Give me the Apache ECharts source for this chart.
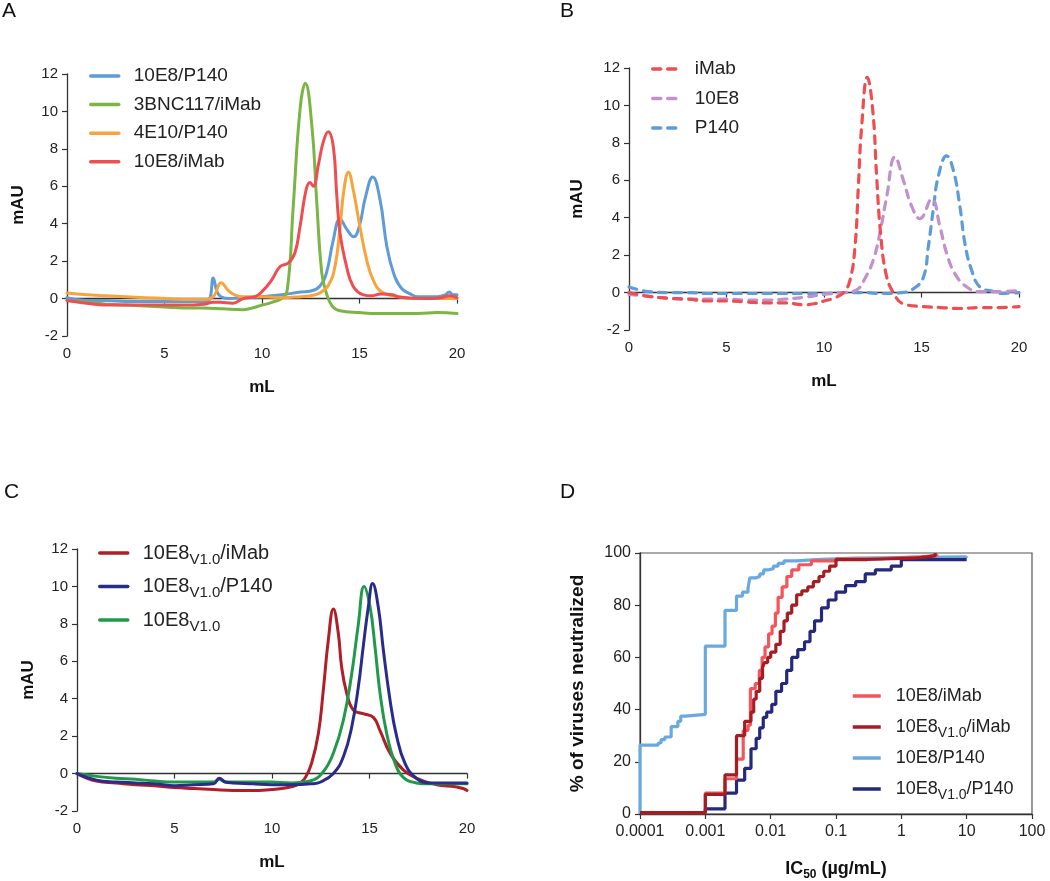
<!DOCTYPE html>
<html><head><meta charset="utf-8">
<script src="https://cdn.jsdelivr.net/npm/echarts@6/dist/echarts.min.js"></script>
<style>html,body{margin:0;padding:0;background:#fff}#c{width:1050px;height:881px}</style>
</head><body><div id="c"></div>
<script>
// ---------- Panel A (mL, mAU) ----------
const a_10E8_P140 = [[0,0.05],[1,-0.1],[2,-0.1],[3,-0.15],[4,-0.15],[5,-0.15],[6,-0.15],[7,-0.15],[7.3,-0.05],[7.5,1.1],[7.7,0.35],[7.9,0.1],[8.3,0.0],[9,0.05],[10,0.1],[11,0.2],[12,0.35],[12.5,0.4],[12.95,0.65],[13.3,1.35],[13.65,3.1],[14.0,4.25],[14.35,3.7],[14.7,3.3],[15.0,3.9],[15.3,5.4],[15.68,6.5],[16.05,5.3],[16.4,2.8],[16.75,1.35],[17.15,0.55],[17.6,0.25],[18,0.1],[19,0.1],[19.4,0.2],[19.6,0.35],[19.8,0.2],[20,0.2]];
const a_3BNC117_iMab = [[0,-0.1],[1,-0.2],[2,-0.3],[3,-0.35],[4,-0.4],[5,-0.45],[6,-0.5],[7,-0.5],[8,-0.55],[9,-0.6],[9.5,-0.5],[10,-0.35],[10.5,-0.2],[11.0,0.0],[11.3,0.5],[11.6,4.9],[11.95,10.1],[12.22,11.5],[12.56,9.2],[12.8,5.3],[13.06,1.4],[13.3,0.3],[13.6,-0.4],[14,-0.65],[15,-0.75],[16,-0.8],[17,-0.8],[18,-0.8],[19,-0.75],[20,-0.8]];
const a_4E10_P140 = [[0,0.3],[1,0.2],[2,0.15],[3,0.1],[4,0.05],[5,0.0],[6,-0.05],[7,-0.05],[7.5,0.1],[7.9,0.85],[8.3,0.4],[8.7,0.15],[9,0.1],[10,0.1],[11,0.05],[12,0.1],[12.5,0.15],[12.97,0.3],[13.4,0.7],[13.74,1.7],[14.0,3.8],[14.2,5.8],[14.43,6.75],[14.68,5.8],[15.03,3.8],[15.37,2.05],[15.7,1.0],[16.14,0.35],[17,0.1],[18,0.0],[19,0.0],[20,0.0]];
const a_10E8_iMab = [[0,-0.1],[1,-0.25],[2,-0.35],[3,-0.35],[4,-0.35],[5,-0.35],[6,-0.35],[7,-0.3],[7.5,-0.2],[7.85,-0.2],[8.5,-0.25],[9.05,0.0],[9.64,0.1],[10.07,0.45],[10.5,1.0],[10.92,1.7],[11.35,1.9],[11.69,2.45],[11.95,3.85],[12.26,5.8],[12.46,6.2],[12.63,6.0],[12.9,7.2],[13.15,8.4],[13.4,8.92],[13.66,8.1],[13.83,5.6],[14.0,3.5],[14.34,1.7],[14.68,0.65],[15.2,0.2],[15.6,0.15],[16.1,0.25],[16.7,0.2],[17.1,0.07],[18.4,0.0],[19.2,0.05],[19.6,0.15],[20,0.05]];

// ---------- Panel B ----------
const b_iMab = [[0,0.0],[1,-0.2],[2,-0.3],[3,-0.35],[4,-0.45],[5,-0.45],[6,-0.5],[7,-0.55],[8,-0.55],[9,-0.65],[9.5,-0.6],[10,-0.45],[10.5,-0.3],[11,0.0],[11.33,0.65],[11.59,2.45],[11.76,5.65],[11.93,8.85],[12.22,11.5],[12.5,9.75],[12.7,6.2],[12.9,3.2],[13.18,1.0],[13.55,0.0],[14.07,-0.6],[15.1,-0.75],[16,-0.8],[17,-0.85],[18,-0.8],[19,-0.8],[20,-0.75]];
const b_10E8 = [[0,-0.1],[1,-0.2],[2,-0.3],[3,-0.35],[4,-0.35],[5,-0.35],[6,-0.4],[7,-0.4],[8,-0.35],[9,-0.25],[10,-0.1],[11,0.0],[11.68,0.15],[12.1,0.75],[12.53,1.75],[12.87,3.2],[13.21,5.1],[13.64,7.25],[14.07,6.0],[14.5,4.6],[14.92,3.95],[15.52,5.0],[15.95,3.5],[16.29,2.1],[16.72,1.0],[17.32,0.3],[18,0.05],[19,0.05],[20,0.1]];
const b_P140 = [[0,0.3],[0.5,0.15],[1,0.05],[2,0.0],[3,0.0],[4,-0.05],[5,-0.05],[6,-0.05],[7,-0.05],[8,-0.05],[9,-0.05],[10,-0.05],[11,0.0],[12,0.0],[13,-0.05],[14,0.0],[14.58,0.2],[15.09,0.8],[15.35,2.45],[15.6,4.4],[15.86,6.2],[16.29,7.3],[16.63,6.55],[16.97,4.6],[17.23,2.6],[17.57,1.2],[18,0.3],[18.7,0.05],[19,-0.05],[20,0.0]];

// ---------- Panel C ----------
const c_v10_iMab = [[0,0.0],[1,-0.4],[2,-0.5],[3,-0.6],[4,-0.65],[5,-0.75],[6,-0.8],[7,-0.85],[8,-0.9],[9,-0.9],[10,-0.85],[10.5,-0.8],[11,-0.7],[11.3,-0.6],[11.69,-0.25],[12.03,0.55],[12.38,2.15],[12.63,4.45],[12.89,7.15],[13.15,8.8],[13.4,7.5],[13.57,5.7],[13.83,4.3],[14.17,3.4],[14.68,3.2],[15.2,3.0],[15.54,2.3],[16.05,1.1],[16.73,0.2],[17.42,-0.25],[18.45,-0.6],[19.4,-0.7],[19.8,-0.8],[20,-0.9]];
const c_v10_P140 = [[0,0.0],[1,-0.35],[2,-0.45],[3,-0.5],[4,-0.55],[5,-0.65],[6,-0.6],[7,-0.55],[7.3,-0.25],[7.6,-0.45],[8,-0.5],[9,-0.55],[10,-0.6],[11,-0.6],[12,-0.55],[12.5,-0.45],[13.15,0.0],[13.66,0.9],[14.09,2.5],[14.43,4.65],[14.68,6.8],[14.94,8.9],[15.16,10.15],[15.45,8.9],[15.71,6.6],[16.05,3.95],[16.39,2.0],[16.82,0.55],[17.4,-0.25],[18.1,-0.5],[19,-0.5],[20,-0.5]];
const c_v10 = [[0,0.0],[1,-0.15],[2,-0.25],[3,-0.3],[4,-0.4],[5,-0.45],[6,-0.45],[7,-0.45],[7.3,-0.3],[7.6,-0.45],[8,-0.45],[9,-0.45],[10,-0.45],[11,-0.5],[11.95,-0.4],[12.63,0.1],[13.15,1.1],[13.66,2.85],[14.09,5.35],[14.43,8.0],[14.72,10.0],[15.03,8.9],[15.28,6.8],[15.54,4.3],[15.88,2.15],[16.31,0.55],[16.73,-0.2],[17.4,-0.5],[18,-0.55],[19,-0.55],[20,-0.55]];

// ---------- Panel D (IC50 µg/mL, % neutralized), steps ----------
const d_10E8_iMab = [[0.0001,0.5],[0.001,1],[0.001,8],[0.002,9],[0.002,13.5],[0.003,14],[0.003,21],[0.0038,22],[0.0038,32],[0.0045,34],[0.0049,48],[0.0058,50],[0.0067,55],[0.0074,60],[0.0082,64],[0.0093,69],[0.0105,72],[0.0118,77],[0.013,83],[0.015,87],[0.0177,91],[0.021,93.5],[0.027,95.5],[0.042,97],[0.1,97.8],[0.5,98.2],[1,98.5],[2,99],[3.5,99.5]];
const d_v10_iMab = [[0.0001,0.5],[0.001,1],[0.001,7.5],[0.002,8.5],[0.002,15],[0.003,16],[0.003,30],[0.004,31],[0.004,35.5],[0.005,36],[0.005,39],[0.0055,44],[0.006,47],[0.0068,52],[0.0075,56],[0.008,58],[0.009,60],[0.01,62],[0.012,65],[0.014,70],[0.016,74],[0.018,77],[0.021,80],[0.025,84],[0.03,85.5],[0.037,87],[0.045,89],[0.055,91],[0.065,93],[0.08,95],[0.1,97.5],[0.3,97.8],[0.7,98],[1.5,98.5],[2.5,99],[3.3,100]];
const d_10E8_P140 = [[0.0001,0],[0.0001,26.4],[0.00019,27.2],[0.00021,28.5],[0.00024,29.5],[0.0003,33.5],[0.00038,35.5],[0.00042,37.5],[0.0005,38.2],[0.001,38.8],[0.001,64.3],[0.002,65.5],[0.002,78],[0.003,79],[0.003,83.5],[0.0037,85],[0.0045,86.5],[0.0048,90.5],[0.006,91],[0.0068,92],[0.0078,93.5],[0.009,94],[0.011,95],[0.013,96],[0.016,97],[0.025,97.5],[0.05,98],[0.2,98.2],[1,98.5],[10,98.8]];
const d_v10_P140 = [[0.0001,0.5],[0.001,1],[0.001,2],[0.002,3],[0.002,8],[0.003,9],[0.003,13],[0.004,14],[0.004,17.5],[0.005,18.5],[0.005,25],[0.006,29],[0.0068,33],[0.0077,37],[0.0087,39],[0.0104,42],[0.012,47],[0.0147,50],[0.0176,55],[0.021,60],[0.026,63],[0.033,66],[0.04,70],[0.047,74],[0.06,79],[0.076,82],[0.1,85],[0.14,87.5],[0.2,89],[0.28,92],[0.4,93.5],[0.7,95],[1,97.5],[10,97.5]];
const dTickLabels = ['0.0001','0.001','0.01','0.1','1','10','100'];

// legend labels ("_x_" marks a subscript)
const labelsA = ['10E8/P140','3BNC117/iMab','4E10/P140','10E8/iMab'];
const labelsB = ['iMab','10E8','P140'];
const labelsC = ['10E8_V1.0_/iMab','10E8_V1.0_/P140','10E8_V1.0_'];
const labelsD = ['10E8/iMab','10E8_V1.0_/iMab','10E8/P140','10E8_V1.0_/P140'];

const FONT = '"Liberation Sans", Arial, Helvetica, sans-serif';
const AX = '#333';

function richLabel(s, n, sub) {
  const parts = s.split('_');
  let out = '';
  parts.forEach((p, i) => { if (p) out += '{' + (i % 2 ? sub : n) + '|' + p + '}'; });
  if (parts.length === 1) out += '{' + sub + '| }';
  return out;
}

const chart = echarts.init(document.getElementById('c'), null, {renderer: 'canvas'});

const grids = [
  {left: 67, top: 74, width: 390, height: 262},
  {left: 629, top: 68, width: 390, height: 262},
  {left: 77, top: 549, width: 390, height: 262},
  {left: 640, top: 553, width: 392, height: 261, show: true, borderColor: '#555', borderWidth: 1.2, backgroundColor: 'transparent'}
].map(g => Object.assign({outerBoundsMode: 'none'}, g));

function chromX(gi) {
  return {type: 'value', gridIndex: gi, min: 0, max: 20, interval: 5,
    axisLine: {show: true, lineStyle: {color: AX, width: 1.3}},
    axisTick: {show: true, length: 5, lineStyle: {color: AX, width: 1.2}},
    axisLabel: {fontSize: 15, color: '#222', margin: 10, fontFamily: FONT},
    splitLine: {show: false},
    name: 'mL', nameLocation: 'middle', nameGap: 43,
    nameTextStyle: {fontSize: 17, fontWeight: 'bold', color: '#111', fontFamily: FONT}};
}
function chromY(gi, gap) {
  return {type: 'value', gridIndex: gi, min: -2, max: 12, interval: 2,
    axisLine: {show: true, lineStyle: {color: AX, width: 1.3}},
    axisTick: {show: true, length: 5, lineStyle: {color: AX, width: 1.2}},
    axisLabel: {fontSize: 15, color: '#222', margin: 9, fontFamily: FONT},
    splitLine: {show: false},
    name: 'mAU', nameLocation: 'middle', nameGap: gap,
    nameTextStyle: {fontSize: 17, fontWeight: 'bold', color: '#111', fontFamily: FONT}};
}

function line(name, gi, data, color, width, dashed) {
  return {type: 'line', name: name, xAxisIndex: gi, yAxisIndex: gi, data: data,
    symbol: 'none', smooth: 0.45, color: color,
    lineStyle: {color: color, width: width, type: dashed ? [8, 7] : 'solid', cap: 'round', join: 'round'},
    emphasis: {disabled: true}, z: 2};
}
function stepLine(name, data, color) {
  return {type: 'line', name: name, xAxisIndex: 3, yAxisIndex: 3, data: data,
    symbol: 'none', step: 'end', color: color, clip: false,
    lineStyle: {color: color, width: 3.2}, emphasis: {disabled: true}, z: 2};
}

const colA = ['#5d9cd8', '#7bb545', '#f8a33c', '#ee4d52'];
const colB = ['#ee4d52', '#c390cc', '#5d9cd8'];
const colC = ['#b01f27', '#2a2c8c', '#1f9a4a'];
const colD = ['#f2555c', '#a51d23', '#6aa9df', '#24297c'];

const series = [
  line('A|' + labelsA[0], 0, a_10E8_P140, colA[0], 3),
  line('A|' + labelsA[1], 0, a_3BNC117_iMab, colA[1], 3),
  line('A|' + labelsA[2], 0, a_4E10_P140, colA[2], 3),
  line('A|' + labelsA[3], 0, a_10E8_iMab, colA[3], 3),
  line('B|' + labelsB[2], 1, b_P140, colB[2], 3.2, true),
  line('B|' + labelsB[1], 1, b_10E8, colB[1], 3.2, true),
  line('B|' + labelsB[0], 1, b_iMab, colB[0], 3.2, true),
  line('C|' + labelsC[0], 2, c_v10_iMab, colC[0], 3),
  line('C|' + labelsC[2], 2, c_v10, colC[2], 3),
  line('C|' + labelsC[1], 2, c_v10_P140, colC[1], 3),
  stepLine('D|' + labelsD[2], d_10E8_P140, colD[2]),
  stepLine('D|' + labelsD[3], d_v10_P140, colD[3]),
  stepLine('D|' + labelsD[0], d_10E8_iMab, colD[0]),
  stepLine('D|' + labelsD[1], d_v10_iMab, colD[1])
];

function legendBase(extra) {
  return Object.assign({orient: 'vertical', itemWidth: 28, itemHeight: 14, selectedMode: false,
    padding: 0, itemStyle: {opacity: 0, borderWidth: 0}, lineStyle: {width: 3.5}}, extra);
}

const legends = [
  legendBase({left: 89, top: 66, itemGap: 8.6, data: labelsA.map(s => 'A|' + s),
    formatter: n => n.slice(2),
    textStyle: {fontSize: 19, lineHeight: 20, color: '#222', fontFamily: FONT, padding: [0, 0, 0, 10]}}),
  legendBase({left: 651, top: 59, itemGap: 9.5, data: labelsB.map(s => 'B|' + s),
    formatter: n => n.slice(2),
    textStyle: {fontSize: 19, lineHeight: 20, color: '#222', fontFamily: FONT, padding: [0, 0, 0, 9]}}),
  legendBase({left: 98, top: 539, itemGap: 5.5, data: labelsC.map(s => 'C|' + s),
    formatter: n => richLabel(n.slice(2), 'n', 's'),
    textStyle: {color: '#222', fontFamily: FONT, padding: [0, 0, 0, 10],
      rich: {n: {fontSize: 20, lineHeight: 24, color: '#222', fontFamily: FONT},
             s: {fontSize: 15, lineHeight: 12, padding: [13, 0, 0, 0], color: '#222', fontFamily: FONT}}}}),
  legendBase({left: 851, top: 683, itemGap: 5, data: labelsD.map(s => 'D|' + s),
    formatter: n => richLabel(n.slice(2), 'n', 's'),
    textStyle: {color: '#222', fontFamily: FONT, padding: [0, 0, 0, 10],
      rich: {n: {fontSize: 18, lineHeight: 24, color: '#222', fontFamily: FONT},
             s: {fontSize: 14, lineHeight: 12, padding: [12, 0, 0, 0], color: '#222', fontFamily: FONT}}}})
];

const titleStyle = {fontSize: 21, fontWeight: 'normal', color: '#111', fontFamily: FONT};
const titles = [
  {text: 'A', left: 2, top: 1, padding: 0, textStyle: titleStyle},
  {text: 'B', left: 560, top: 1, padding: 0, textStyle: titleStyle},
  {text: 'C', left: 4, top: 482, padding: 0, textStyle: titleStyle},
  {text: 'D', left: 560, top: 482, padding: 0, textStyle: titleStyle}
];

const option = {
  animation: false,
  backgroundColor: '#ffffff',
  title: titles,
  legend: legends,
  grid: grids,
  xAxis: [chromX(0), chromX(1), chromX(2),
    {type: 'log', logBase: 10, gridIndex: 3, min: 0.0001, max: 100, interval: 1,
      axisLine: {show: true, lineStyle: {color: AX, width: 1.3}},
      axisTick: {show: true, length: 5, lineStyle: {color: AX, width: 1.2}},
      axisLabel: {fontSize: 16, color: '#222', margin: 10, fontFamily: FONT,
        formatter: v => dTickLabels[Math.round(Math.log10(v)) + 4]},
      splitLine: {show: false}, minorTick: {show: false},
      name: '{b|IC}{s|50}{b| (µg/mL)}', nameLocation: 'middle', nameGap: 44,
      nameTextStyle: {fontFamily: FONT, rich: {
        b: {fontSize: 18, fontWeight: 'bold', color: '#111', lineHeight: 22, fontFamily: FONT},
        s: {fontSize: 12, fontWeight: 'bold', color: '#111', lineHeight: 10, padding: [12, 0, 0, 0], fontFamily: FONT}}}}],
  yAxis: [chromY(0, 40), chromY(1, 43), chromY(2, 40),
    {type: 'value', gridIndex: 3, min: 0, max: 100, interval: 20,
      axisLine: {show: true, lineStyle: {color: AX, width: 1.3}},
      axisTick: {show: true, length: 5, lineStyle: {color: AX, width: 1.2}},
      axisLabel: {fontSize: 16, color: '#222', margin: 9, fontFamily: FONT},
      splitLine: {show: false},
      name: '% of viruses neutralized', nameLocation: 'middle', nameGap: 53,
      nameTextStyle: {fontSize: 19, fontWeight: 'bold', color: '#111', fontFamily: FONT}}],
  series: series
};
chart.setOption(option);
</script></body></html>
